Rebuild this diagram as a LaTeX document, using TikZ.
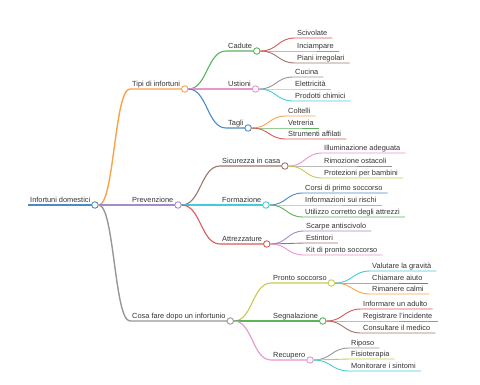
\documentclass[tikz,border=0pt]{standalone}
\usepackage{fontspec}
\setmainfont{Liberation Sans}
\usetikzlibrary{calc}
\definecolor{MapBlue}{HTML}{4A8BC4}
\definecolor{MapOrange}{HTML}{F8A34A}
\definecolor{MapGreen}{HTML}{5CB35C}
\definecolor{MapRed}{HTML}{DB5859}
\definecolor{MapPurple}{HTML}{A889C9}
\definecolor{MapBrown}{HTML}{A0766C}
\definecolor{MapPink}{HTML}{E894CF}
\definecolor{MapGray}{HTML}{979797}
\definecolor{MapOlive}{HTML}{C8C94E}
\definecolor{MapCyan}{HTML}{45CBD9}

\begin{document}
\begin{tikzpicture}[
  x=1pt, y=-1pt,
  topic/.style={anchor=south west, inner xsep=2pt, inner ysep=0pt, text depth=2.2pt, font=\fontsize{7.4}{9}\selectfont, text=black!80},
  knob/.style={circle, draw, fill=white, line width=0.9pt, inner sep=0pt, minimum size=6.5pt},
  link/.style={line width=#1, to path={let \p1=(\tikztostart), \p2=(\tikztotarget) in .. controls ({(\x1+\x2)/2},\y1) and ({(\x1+\x2)/2},\y2) .. (\tikztotarget)}},
  link/.default=0.9pt
]
  \useasboundingbox (0,0) rectangle (480,384);

  % root
  \node[topic] (root) at (28,205) {Infortuni domestici};
  \draw[MapBlue, line width=1.8pt] (root.south west) -- ([xshift=2.5pt]root.south east) node[knob] (root-k) {};

  % first branch
  \node[topic] (tipi) at (130,89) {Tipi di infortuni};
  \draw[MapOrange, link=1.4pt] (root-k.east) to (tipi.south west) -- ([xshift=2.5pt]tipi.south east) node[knob] (tipi-k) {};

  \node[topic] (cadute) at (226,51) {Cadute};
  \draw[MapGreen, link=1.1pt] (tipi-k.east) to (cadute.south west) -- ([xshift=2.5pt]cadute.south east) node[knob] (cadute-k) {};
  \node[topic] (scivolate) at (295,38) {Scivolate};
  \draw[MapRed, link] (cadute-k.east) to (scivolate.south west) -- ([xshift=3pt]scivolate.south east);
  \node[topic] (inciampare) at (295,51) {Inciampare};
  \draw[MapPurple, link] (cadute-k.east) to (inciampare.south west) -- ([xshift=3pt]inciampare.south east);
  \node[topic] (piani) at (295,63) {Piani irregolari};
  \draw[MapBrown, link] (cadute-k.east) to (piani.south west) -- ([xshift=3pt]piani.south east);

  \node[topic] (ustioni) at (226,89) {Ustioni};
  \draw[MapPink, link=1.1pt] (tipi-k.east) to (ustioni.south west) -- ([xshift=2.5pt]ustioni.south east) node[knob] (ustioni-k) {};
  \node[topic] (cucina) at (293,77) {Cucina};
  \draw[MapGray, link] (ustioni-k.east) to (cucina.south west) -- ([xshift=3pt]cucina.south east);
  \node[topic] (elettricita) at (293,89) {Elettricità};
  \draw[MapOlive, link] (ustioni-k.east) to (elettricita.south west) -- ([xshift=3pt]elettricita.south east);
  \node[topic] (prodotti) at (293,101) {Prodotti chimici};
  \draw[MapCyan, link] (ustioni-k.east) to (prodotti.south west) -- ([xshift=3pt]prodotti.south east);

  \node[topic] (tagli) at (226,128) {Tagli};
  \draw[MapBlue, link=1.1pt] (tipi-k.east) to (tagli.south west) -- ([xshift=2.5pt]tagli.south east) node[knob] (tagli-k) {};
  \node[topic] (coltelli) at (286,116) {Coltelli};
  \draw[MapOrange, link] (tagli-k.east) to (coltelli.south west) -- ([xshift=3pt]coltelli.south east);
  \node[topic] (vetreria) at (286,128) {Vetreria};
  \draw[MapGreen, link] (tagli-k.east) to (vetreria.south west) -- ([xshift=3pt]vetreria.south east);
  \node[topic] (strumenti) at (286,139) {Strumenti affilati};
  \draw[MapRed, link] (tagli-k.east) to (strumenti.south west) -- ([xshift=3pt]strumenti.south east);

  % second branch
  \node[topic] (prev) at (130,205) {Prevenzione};
  \draw[MapPurple, link=1.4pt] (root-k.east) to (prev.south west) -- ([xshift=2.5pt]prev.south east) node[knob] (prev-k) {};

  \node[topic] (sicurezza) at (220,166) {Sicurezza in casa};
  \draw[MapBrown, link=1.1pt] (prev-k.east) to (sicurezza.south west) -- ([xshift=2.5pt]sicurezza.south east) node[knob] (sicurezza-k) {};
  \node[topic] (illum) at (322,153) {Illuminazione adeguata};
  \draw[MapPink, link] (sicurezza-k.east) to (illum.south west) -- ([xshift=3pt]illum.south east);
  \node[topic] (rimozione) at (322,166) {Rimozione ostacoli};
  \draw[MapGray, link] (sicurezza-k.east) to (rimozione.south west) -- ([xshift=3pt]rimozione.south east);
  \node[topic] (protezioni) at (322,178) {Protezioni per bambini};
  \draw[MapOlive, link] (sicurezza-k.east) to (protezioni.south west) -- ([xshift=3pt]protezioni.south east);

  \node[topic] (formazione) at (220,205) {Formazione};
  \draw[MapCyan, link=1.1pt] (prev-k.east) to (formazione.south west) -- ([xshift=2.5pt]formazione.south east) node[knob] (formazione-k) {};
  \node[topic] (corsi) at (303,193) {Corsi di primo soccorso};
  \draw[MapBlue, link] (formazione-k.east) to (corsi.south west) -- ([xshift=3pt]corsi.south east);
  \node[topic] (info) at (303,205) {Informazioni sui rischi};
  \draw[MapOrange, link] (formazione-k.east) to (info.south west) -- ([xshift=3pt]info.south east);
  \node[topic] (utilizzo) at (303,217) {Utilizzo corretto degli attrezzi};
  \draw[MapGreen, link] (formazione-k.east) to (utilizzo.south west) -- ([xshift=3pt]utilizzo.south east);

  \node[topic] (attrezz) at (220,244) {Attrezzature};
  \draw[MapRed, link=1.1pt] (prev-k.east) to (attrezz.south west) -- ([xshift=2.5pt]attrezz.south east) node[knob] (attrezz-k) {};
  \node[topic] (scarpe) at (304,231) {Scarpe antiscivolo};
  \draw[MapPurple, link] (attrezz-k.east) to (scarpe.south west) -- ([xshift=3pt]scarpe.south east);
  \node[topic] (estintori) at (304,243) {Estintori};
  \draw[MapBrown, link] (attrezz-k.east) to (estintori.south west) -- ([xshift=3pt]estintori.south east);
  \node[topic] (kit) at (304,255) {Kit di pronto soccorso};
  \draw[MapPink, link] (attrezz-k.east) to (kit.south west) -- ([xshift=3pt]kit.south east);

  % third branch
  \node[topic] (cosa) at (130,321) {Cosa fare dopo un infortunio};
  \draw[MapGray, link=1.4pt] (root-k.east) to (cosa.south west) -- ([xshift=2.5pt]cosa.south east) node[knob] (cosa-k) {};

  \node[topic] (pronto) at (271,283) {Pronto soccorso};
  \draw[MapOlive, link=1.1pt] (cosa-k.east) to (pronto.south west) -- ([xshift=2.5pt]pronto.south east) node[knob] (pronto-k) {};
  \node[topic] (valutare) at (370,271) {Valutare la gravità};
  \draw[MapCyan, link] (pronto-k.east) to (valutare.south west) -- ([xshift=3pt]valutare.south east);
  \node[topic] (chiamare) at (370,283) {Chiamare aiuto};
  \draw[MapBlue, link] (pronto-k.east) to (chiamare.south west) -- ([xshift=3pt]chiamare.south east);
  \node[topic] (rimanere) at (370,294) {Rimanere calmi};
  \draw[MapOrange, link] (pronto-k.east) to (rimanere.south west) -- ([xshift=3pt]rimanere.south east);

  \node[topic] (segnal) at (271,321) {Segnalazione};
  \draw[MapGreen, link=1.1pt] (cosa-k.east) to (segnal.south west) -- ([xshift=2.5pt]segnal.south east) node[knob] (segnal-k) {};
  \node[topic] (informare) at (361,309) {Informare un adulto};
  \draw[MapRed, link] (segnal-k.east) to (informare.south west) -- ([xshift=3pt]informare.south east);
  \node[topic] (registrare) at (361,321) {Registrare l'incidente};
  \draw[MapPurple, link] (segnal-k.east) to (registrare.south west) -- ([xshift=3pt]registrare.south east);
  \node[topic] (consultare) at (361,333) {Consultare il medico};
  \draw[MapBrown, link] (segnal-k.east) to (consultare.south west) -- ([xshift=3pt]consultare.south east);

  \node[topic] (recupero) at (271,360) {Recupero};
  \draw[MapPink, link=1.1pt] (cosa-k.east) to (recupero.south west) -- ([xshift=2.5pt]recupero.south east) node[knob] (recupero-k) {};
  \node[topic] (riposo) at (349,348) {Riposo};
  \draw[MapGray, link] (recupero-k.east) to (riposo.south west) -- ([xshift=3pt]riposo.south east);
  \node[topic] (fisio) at (349,359) {Fisioterapia};
  \draw[MapOlive, link] (recupero-k.east) to (fisio.south west) -- ([xshift=3pt]fisio.south east);
  \node[topic] (monitorare) at (349,371) {Monitorare i sintomi};
  \draw[MapCyan, link] (recupero-k.east) to (monitorare.south west) -- ([xshift=3pt]monitorare.south east);
\end{tikzpicture}
\end{document}
